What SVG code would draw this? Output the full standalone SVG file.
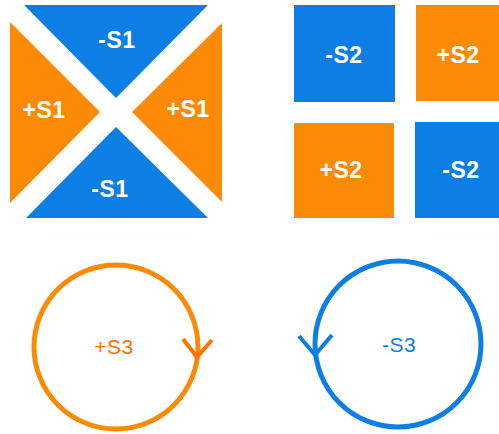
<svg xmlns="http://www.w3.org/2000/svg" width="499" height="434" viewBox="0 0 499 434">
<style>
.b{fill:#0d7ee3}
.o{fill:#fb8a07}
.lbl{font-family:"Liberation Sans",Arial,sans-serif;font-weight:bold;font-size:23px;letter-spacing:0.5px;fill:#fff;text-anchor:middle}
.s3{font-family:"Liberation Sans",Arial,sans-serif;font-size:21px;letter-spacing:0.5px;text-anchor:middle}
.ring{fill:none;stroke-width:5}
.arr{fill:none;stroke-width:4;stroke-linecap:butt;stroke-linejoin:miter}
</style>
<g id="s1-top"><polygon class="b" points="24,5 208,5 116,98"/><text class="lbl" x="117" y="48">-S1</text></g>
<g id="s1-left"><polygon class="o" points="10,22 100,112 10,203"/><text class="lbl" x="44" y="118">+S1</text></g>
<g id="s1-right"><polygon class="o" points="222,23 132,112 222,202"/><text class="lbl" x="188" y="117">+S1</text></g>
<g id="s1-bottom"><polygon class="b" points="116,127 208,218 26,218"/><text class="lbl" x="110" y="197">-S1</text></g>
<g id="s2-a"><rect class="b" x="294" y="5" width="101" height="97"/><text class="lbl" x="344" y="63">-S2</text></g>
<g id="s2-b"><rect class="o" x="416" y="5" width="83" height="96"/><text class="lbl" x="458" y="63">+S2</text></g>
<g id="s2-c"><rect class="o" x="294" y="123" width="100" height="95"/><text class="lbl" x="341" y="178">+S2</text></g>
<g id="s2-d"><rect class="b" x="415" y="122" width="84" height="96"/><text class="lbl" x="461" y="178">-S2</text></g>
<g id="s3-pos"><circle class="ring" cx="116" cy="347" r="82" stroke="#fb8a07"/><text class="s3" x="114" y="354" fill="#ff6d00">+S3</text></g>
<g id="s3-neg"><circle class="ring" cx="398" cy="344" r="83" stroke="#0d7ee3"/><text class="s3" x="399" y="352" fill="#0d7ee3">-S3</text></g>
<g id="connectors">
<polyline class="arr" points="183,339 197,357 212,340" stroke="#ff7400"/>
<polyline class="arr" points="299,336 315,355 332,335" stroke="#0d7ee3"/>
</g>
</svg>
